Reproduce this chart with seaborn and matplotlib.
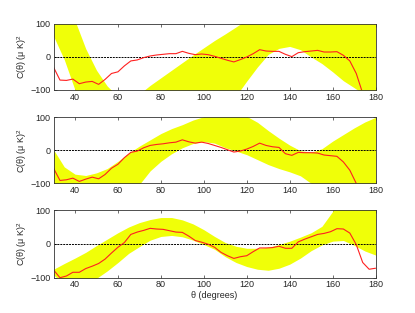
import numpy as np
import pandas as pd
import matplotlib
matplotlib.use("Agg")
import matplotlib.pyplot as plt
import seaborn as sns

# angles (degrees)
theta_band = list(range(30, 181, 5))
theta_line = list(range(30, 181, 3))

# ---- panel 1 ----
p1_upper = [320, 215, 110, 25, -40, -88, -120, -132, -112, -86, -63, -40, -17, 6, 28,
            50, 70, 91, 113, 135, 155, 170, 180, 185, 185, 180, 175, 165, 155, 145, 135]
p1_lower = [63, -8, -100, -190, -260, -300, -310, -310, -300, -285, -265, -245, -225, -205, -185,
            -170, -160, -118, -73, -30, 8, 26, 32, 22, 0, -20, -45, -72, -93, -115, -140]
p1_line = [-31, -70, -71, -67, -81, -76, -74, -83, -68, -50, -45, -27, -12, -9, -2, 3, 6, 8,
           10, 10, 17, 11, 7, 9, 7, 2, -4, -10, -15, -8, 0, 10, 22, 18, 17, 17, 8, 1, 13,
           16, 18, 20, 15, 15, 16, 5, -12, -50, -110, -200, -300]

# ---- panel 2 ----
p2_upper = [2, -50, -72, -76, -68, -55, -33, -8, 13, 32, 51, 66, 78, 92, 102,
            112, 118, 115, 103, 85, 60, 37, 16, -1, -5, 5, 28, 48, 68, 86, 100]
p2_lower = [-150, -180, -200, -210, -210, -200, -185, -145, -103, -62, -33, -10, 8, 21, 27,
            22, 8, -2, -13, -28, -43, -55, -65, -77, -100, -130, -160, -190, -220, -250, -280]
p2_line = [-54, -91, -89, -84, -94, -87, -81, -86, -73, -54, -42, -22, -6, -2, 8, 15, 18, 20,
           23, 25, 32, 26, 22, 25, 21, 15, 9, 2, -5, -2, 4, 12, 22, 15, 11, 9, -10, -15, -6,
           -7, -7, -8, -14, -16, -18, -35, -60, -100, -150, -200, -250]

# ---- panel 3 ----
p3_upper = [-75, -58, -42, -25, -5, 14, 33, 50, 63, 72, 78, 78, 71, 59, 42,
            22, 4, -7, -13, -13, -10, -2, 8, 20, 33, 52, 96, 160, 210, 260, 300]
p3_lower = [-92, -118, -130, -120, -102, -80, -55, -28, -8, 11, 22, 25, 21, 11, -2,
            -16, -38, -55, -67, -75, -78, -72, -60, -42, -20, -3, 8, 10, -4, -21, -33]
p3_line = [-77, -100, -95, -84, -84, -73, -66, -58, -45, -27, -10, 4, 28, 35, 40, 46, 44, 43,
           39, 35, 34, 23, 10, 5, -1, -10, -25, -35, -43, -38, -35, -23, -12, -12, -11, -7,
           -13, -13, 6, 14, 21, 28, 31, 36, 45, 44, 32, -2, -55, -75, -72]

panels = [(p1_upper, p1_lower, p1_line),
          (p2_upper, p2_lower, p2_line),
          (p3_upper, p3_lower, p3_line)]

sns.set_style("ticks")
plt.rcParams['font.family'] = ['Liberation Sans', 'DejaVu Sans']
plt.rcParams['mathtext.fontset'] = 'custom'
plt.rcParams['mathtext.rm'] = 'Liberation Sans'
plt.rcParams['mathtext.it'] = 'Liberation Sans'

fig = plt.figure(figsize=(4.15, 3.13), dpi=100)
fig.patch.set_facecolor('white')

positions = [(0.129, 0.7125, 0.776, 0.211),
             (0.129, 0.414, 0.776, 0.211),
             (0.129, 0.1128, 0.776, 0.216)]

yellow = '#f0ff08'
for i, ((up, lo, ln), pos) in enumerate(zip(panels, positions)):
    ax = fig.add_axes(pos)
    ax.fill_between(theta_band, lo, up, color=yellow, linewidth=0, zorder=1)
    df = pd.DataFrame({'theta': theta_line, 'C': ln})
    sns.lineplot(data=df, x='theta', y='C', ax=ax, color='#ff2020', linewidth=0.8,
                 zorder=3)
    ax.axhline(0, color='k', linestyle='--', linewidth=0.7, dashes=(2, 1), zorder=2)
    ax.set_xlim(30, 180)
    ax.set_ylim(-100, 100)
    ax.set_xticks(range(40, 181, 20))
    ax.set_yticks([-100, 0, 100])
    ax.set_yticklabels(['\u2212100', '0', '100'])
    ax.tick_params(direction='in', length=2.5, width=0.6, labelsize=6.5,
                   top=True, right=True, pad=2, color='#555555')
    for s in ax.spines.values():
        s.set_linewidth(0.6)
        s.set_color('#333333')
        s.set_zorder(4)
    ax.set_ylabel(r'C($\mathrm{\theta}$) ($\mathrm{\mu}$ K)$^2$', fontsize=6.5, labelpad=1)
    if i == 2:
        ax.set_xlabel('\u03b8 (degrees)', fontsize=6.5, labelpad=1)
    else:
        ax.set_xlabel('')

fig.savefig('out.png', dpi=100, facecolor='white')
